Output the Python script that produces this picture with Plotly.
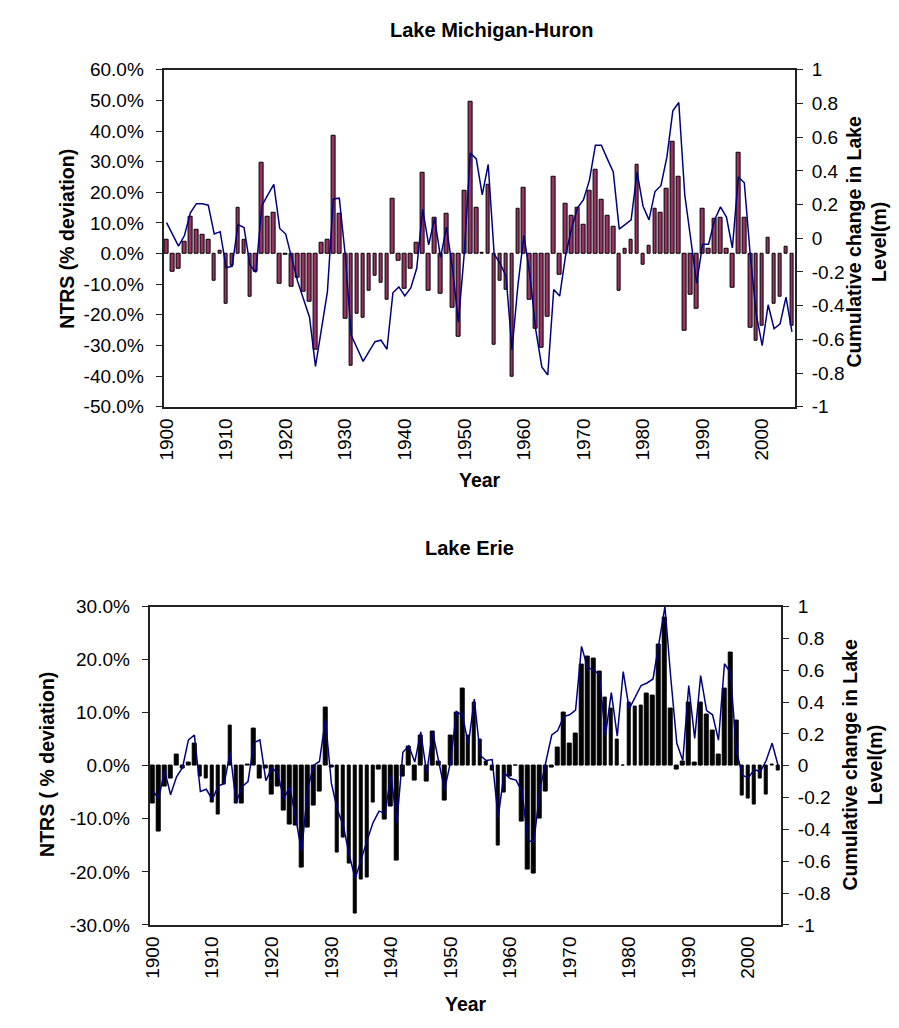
import plotly.graph_objects as go

# ---------------- data ----------------
YEARS = list(range(1900, 2006))
YEAR_TICKS = [1900, 1910, 1920, 1930, 1940, 1950, 1960, 1970, 1980, 1990, 2000]

MH_NTRS = [4.5, -5.9, -4.9, 3.9, 12.1, 7.9, 6.3, 4.5, -8.8, 1.0,
           -16.5, -4.0, 15.1, 4.4, -14.1, -5.9, 29.6, 12.1, 13.2, -9.8,
           -0.5, -10.7, -7.8, -12.6, -15.6, -31.4, 3.4, 4.5, 38.3, 13.1,
           -21.4, -36.5, -19.5, -20.9, -12.2, -7.2, -9.4, -15.2, 18.0, -2.4,
           -11.5, -4.9, 3.4, 26.3, -12.2, 11.7, -13.1, 13.1, -17.6, -27.2,
           20.4, 49.5, 15.1, 0.3, 22.3, -29.7, -8.8, -11.7, -40.2, 14.6,
           21.4, -15.2, -24.4, -30.6, -20.5, 25.2, -6.9, 16.1, 12.2, 15.1,
           9.3, 20.4, 27.2, 17.6, 12.2, 8.7, -12.2, 1.5, 4.5, 29.1,
           -3.5, 2.4, 14.6, 13.2, 21.0, 36.4, 25.2, -25.3, -13.6, -18.1,
           14.6, 1.5, 11.2, 11.7, 1.5, -11.3, 33.0, 11.7, -24.3, -28.6,
           -23.7, 5.3, -16.5, -14.1, 2.3, -23.7]

MH_LEVEL = [0.093, 0.025, -0.047, 0.016, 0.151, 0.205, 0.205, 0.196, 0.025, 0.039,
            -0.174, -0.167, 0.081, 0.064, -0.159, -0.202, 0.194, 0.258, 0.320, 0.058,
            0.025, -0.116, -0.256, -0.362, -0.469, -0.760, -0.537, -0.318, 0.233, 0.238,
            -0.101, -0.576, -0.653, -0.731, -0.672, -0.614, -0.605, -0.659, -0.324, -0.289,
            -0.343, -0.295, -0.178, 0.171, -0.039, 0.118, -0.114, 0.066, -0.178, -0.498,
            -0.081, 0.506, 0.471, 0.258, 0.438, -0.095, -0.149, -0.227, -0.663, -0.275,
            0.016, -0.217, -0.547, -0.764, -0.812, -0.304, -0.343, -0.101, 0.058, 0.180,
            0.229, 0.345, 0.552, 0.552, 0.471, 0.393, 0.054, 0.083, 0.109, 0.393,
            0.190, 0.109, 0.277, 0.312, 0.481, 0.756, 0.806, 0.258, -0.004, -0.266,
            -0.035, -0.035, 0.107, 0.186, 0.126, -0.058, 0.364, 0.329, -0.101, -0.450,
            -0.638, -0.395, -0.537, -0.508, -0.349, -0.556]

ERIE_NTRS = [-7.1, -12.4, -3.9, -2.5, 2.2, -0.5, 0.6, 4.1, -2.0, -2.5,
             -6.9, -9.2, -3.6, 7.6, -7.1, -7.1, 0.3, 7.0, -2.5, -0.6,
             -5.5, -3.9, -8.4, -11.0, -11.3, -19.1, -11.6, -7.5, -4.9, 11.0,
             -0.3, -16.3, -13.5, -18.4, -27.9, -21.5, -21.0, -7.0, -0.8, -10.1,
             -7.6, -17.8, -2.0, 3.7, -2.7, 5.6, -3.0, 6.4, 0.7, -6.5,
             5.6, 10.1, 14.5, 5.6, 12.0, 5.0, 0.7, -1.0, -15.1, -5.0,
             -2.0, 0.0, -10.5, -19.5, -20.4, -10.0, -4.9, -0.4, 3.4, 10.1,
             4.2, 6.0, 19.0, 20.5, 20.2, 17.7, 12.8, 10.7, 5.0, 0.0,
             12.0, 11.1, 11.4, 13.6, 13.2, 22.9, 28.0, 10.7, -0.7, 0.8,
             12.0, 0.6, 12.0, 9.6, 6.6, 2.2, 14.5, 21.4, 8.5, -5.7,
             -6.1, -7.4, -2.5, -5.5, 0.2, -1.0]

ERIE_LEVEL = [-0.156, -0.207, -0.029, -0.182, -0.070, -0.012, 0.162, 0.193, -0.162, -0.148,
              -0.213, -0.127, -0.111, 0.084, -0.234, -0.131, -0.100, 0.145, 0.162, -0.094,
              -0.012, -0.049, -0.209, -0.131, -0.326, -0.541, -0.152, 0.002, 0.027, 0.293,
              -0.111, -0.275, -0.377, -0.561, -0.709, -0.582, -0.469, -0.357, -0.285, -0.299,
              -0.059, -0.357, 0.084, 0.125, 0.023, 0.213, -0.045, 0.213, 0.023, -0.152,
              0.023, 0.340, 0.316, 0.135, 0.418, 0.064, 0.033, 0.039, -0.326, -0.045,
              -0.080, -0.090, -0.162, -0.469, -0.480, -0.152, 0.023, 0.193, 0.221, 0.309,
              0.320, 0.350, 0.750, 0.617, 0.602, 0.572, 0.186, 0.459, 0.186, 0.592,
              0.357, 0.432, 0.504, 0.520, 0.545, 0.770, 1.000, 0.545, 0.141, 0.033,
              0.504, 0.172, 0.566, 0.346, 0.320, 0.160, 0.641, 0.586, 0.094, -0.059,
              -0.076, -0.023, -0.039, 0.033, 0.141, 0.002]

MH_PCT_TICKS = [60, 50, 40, 30, 20, 10, 0, -10, -20, -30, -40, -50]
ERIE_PCT_TICKS = [30, 20, 10, 0, -10, -20, -30]
LEVEL_TICKS = [1, 0.8, 0.6, 0.4, 0.2, 0, -0.2, -0.4, -0.6, -0.8, -1]

# ---------------- helpers ----------------
W, H = 899, 1028
FONT = "Liberation Sans, Arial, sans-serif"
TICKFONT = dict(family=FONT, size=19, color="black")
LINECOL = "#222222"


def pct_text(v):
    return f"{v:.1f}%"


def lvl_text(v):
    return f"{v:g}"


def px_x(p):
    return p / W


def px_y(p):
    return 1 - p / H


fig = go.Figure()

# top chart traces
fig.add_trace(go.Bar(x=YEARS, y=MH_NTRS, xaxis="x", yaxis="y", width=0.62,
                     marker=dict(color="#993366", line=dict(color="black", width=1)),
                     showlegend=False))
fig.add_trace(go.Scatter(x=YEARS, y=MH_LEVEL, xaxis="x", yaxis="y2", mode="lines",
                         line=dict(color="#000080", width=1.5), showlegend=False))
# bottom chart traces
fig.add_trace(go.Bar(x=YEARS, y=ERIE_NTRS, xaxis="x2", yaxis="y5", width=0.62,
                     marker=dict(color="black", line=dict(color="black", width=1)),
                     showlegend=False))
fig.add_trace(go.Scatter(x=YEARS, y=ERIE_LEVEL, xaxis="x2", yaxis="y6", mode="lines",
                         line=dict(color="#000080", width=1.5), showlegend=False))

XR = [YEARS[0] - 0.5, YEARS[-1] + 0.5]
BOUNDS = [y + 0.5 for y in [YEARS[0] - 1] + YEARS]

top_dx = [px_x(157), px_x(794)]
top_dy = [px_y(405), px_y(61)]
bot_dx = [px_x(143), px_x(780)]
bot_dy = [px_y(934), px_y(609)]

MH_RANGE = [min(MH_PCT_TICKS), max(MH_PCT_TICKS)]
ERIE_RANGE = [min(ERIE_PCT_TICKS), max(ERIE_PCT_TICKS)]
LV_RANGE = [min(LEVEL_TICKS), max(LEVEL_TICKS)]


def zero_pos(dom, rng):
    return dom[0] + (0 - rng[0]) / (rng[1] - rng[0]) * (dom[1] - dom[0])


def xmain(dom, anchor):
    return dict(domain=dom, range=XR, anchor=anchor, tickmode="array",
                tickvals=YEAR_TICKS, ticktext=[str(t) for t in YEAR_TICKS],
                tickangle=-90, tickfont=TICKFONT, ticks="", showline=True,
                mirror=True, linecolor=LINECOL, linewidth=2, showgrid=False,
                zeroline=False, ticklabelstandoff=2)


def zeroaxis(over, pos, inside, color):
    return dict(overlaying=over, anchor="free", position=pos, range=XR,
                tickmode="array", tickvals=BOUNDS, ticks="inside" if inside else "outside",
                ticklen=6, tickwidth=1, tickcolor=color, showticklabels=False,
                showline=inside, linecolor="black", linewidth=2, showgrid=False,
                zeroline=False)


def yleft(dom, rng, ticks, anchor):
    return dict(domain=dom, range=rng, anchor=anchor, tickmode="array", tickvals=ticks,
                ticktext=[pct_text(t) for t in ticks], tickfont=TICKFONT,
                ticks="outside", ticklen=6, tickcolor=LINECOL, tickwidth=1,
                showline=True, linecolor=LINECOL, linewidth=2, showgrid=False,
                zeroline=False, ticklabelstandoff=8)


def yright(over, anchor):
    return dict(overlaying=over, side="right", anchor=anchor, range=LV_RANGE,
                tickmode="array", tickvals=LEVEL_TICKS,
                ticktext=[lvl_text(t) for t in LEVEL_TICKS], tickfont=TICKFONT,
                ticks="outside", ticklen=6, tickcolor=LINECOL, tickwidth=1,
                showline=True, linecolor=LINECOL, linewidth=2, showgrid=False,
                zeroline=False, ticklabelstandoff=5)


def ycross(over, anchor, rng, ticks, side):
    return dict(overlaying=over, side=side, anchor=anchor, range=rng, tickmode="array",
                tickvals=ticks, ticks="inside", ticklen=6, tickcolor=LINECOL,
                tickwidth=1, showticklabels=False, showline=False, showgrid=False,
                zeroline=False)


layout = dict(
    width=W, height=H, margin=dict(l=0, r=0, t=0, b=0),
    paper_bgcolor="white", plot_bgcolor="white",
    font=dict(family=FONT, color="black"),
    bargap=0,
    xaxis=xmain(top_dx, "y"),
    yaxis=yleft(top_dy, MH_RANGE, MH_PCT_TICKS, "x"),
    yaxis2=yright("y", "x"),
    yaxis3=ycross("y", "x", MH_RANGE, MH_PCT_TICKS, "left"),
    yaxis4=ycross("y", "x", LV_RANGE, LEVEL_TICKS, "right"),
    xaxis3=zeroaxis("x", zero_pos(top_dy, MH_RANGE), True, "#333333"),
    xaxis4=zeroaxis("x", zero_pos(top_dy, MH_RANGE), False, "#888888"),
    xaxis2=xmain(bot_dx, "y5"),
    yaxis5=yleft(bot_dy, ERIE_RANGE, ERIE_PCT_TICKS, "x2"),
    yaxis6=yright("y5", "x2"),
    yaxis7=ycross("y5", "x2", ERIE_RANGE, ERIE_PCT_TICKS, "left"),
    yaxis8=ycross("y5", "x2", LV_RANGE, LEVEL_TICKS, "right"),
    xaxis5=zeroaxis("x2", zero_pos(bot_dy, ERIE_RANGE), True, "#333333"),
    xaxis6=zeroaxis("x2", zero_pos(bot_dy, ERIE_RANGE), False, "#888888"),
)
fig.update_layout(**layout)

BOLD = dict(family=FONT, size=19.5, color="black")
TITLEF = dict(family=FONT, size=20, color="black")


def ann(text, x, y, font, angle=0):
    fig.add_annotation(text=text, x=px_x(x), y=px_y(y), xref="paper", yref="paper",
                       showarrow=False, xanchor="center", yanchor="middle",
                       textangle=angle, font=font, align="center")


ann("<b>Lake Michigan-Huron</b>", 488, 20, TITLEF)
ann("<b>Year</b>", 476, 480, BOLD)
ann("<b>NTRS (% deviation)</b>", 60, 233, BOLD, -90)
ann("<b>Cumulative change in Lake<br>Level(m)</b>", 866, 236, BOLD, -90)

ann("<b>Lake Erie</b>", 466, 549, TITLEF)
ann("<b>Year</b>", 462, 1015, BOLD)
ann("<b>NTRS ( % deviation)</b>", 40, 770, BOLD, -90)
ann("<b>Cumulative change in Lake<br>Level(m)</b>", 862, 770, BOLD, -90)

fig.write_html("out.html")
